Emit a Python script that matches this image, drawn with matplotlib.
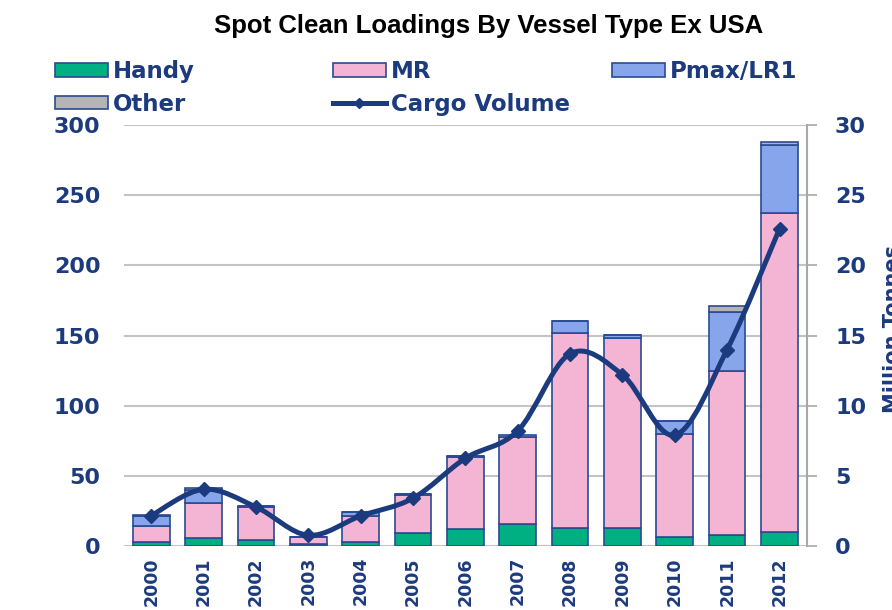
import numpy as np
import matplotlib
matplotlib.use('Agg')
import matplotlib.pyplot as plt
from matplotlib import font_manager
from matplotlib.path import Path
from matplotlib.patches import PathPatch, Patch
from matplotlib.lines import Line2D

years = ['2000', '2001', '2002', '2003', '2004', '2005', '2006',
         '2007', '2008', '2009', '2010', '2011', '2012']
handy = [2.5, 5.5, 4, 1.5, 2.5, 9, 12, 16, 13, 13, 6.5, 8, 10]
mr = [12, 25, 24, 5, 19, 27.5, 51.5, 61.5, 139, 135, 73, 117, 227]
pmax = [6.5, 9.5, 0.5, 0, 2.5, 0.5, 0.5, 0.5, 8, 2.5, 9.5, 42, 49]
other = [1, 1, 0, 0, 0, 0, 0, 1, 0.5, 0, 0, 4, 2]
cargo = [2.16, 4.04, 2.78, 0.76, 2.14, 3.4, 6.25, 8.2, 13.7, 12.2, 7.9, 14.0, 22.6]

navy = '#1c3a7e'
edge = '#2b4a92'
c_handy = '#00b082'
c_mr = '#f4b4d4'
c_pmax = '#86a5ea'
c_other = '#b4b4b4'

# pick the regular-width Liberation Sans Bold (avoid the Narrow variant)
title_font = font_manager.FontProperties(family='DejaVu Sans', weight='bold', size=18.5)
for f in font_manager.fontManager.ttflist:
    if f.name == 'Liberation Sans' and f.weight in (700, 'bold') and f.style == 'normal' \
            and 'Narrow' not in f.fname:
        title_font = font_manager.FontProperties(fname=f.fname, size=18.5)
        break

fig = plt.figure(figsize=(8.92, 6.1), dpi=100)
ax = fig.add_axes([0.139, 0.105, 0.766, 0.69])
ax2 = ax.twinx()

x = np.arange(len(years))
w = 0.7
bottom = np.zeros(len(years))
for vals, col in [(handy, c_handy), (mr, c_mr), (pmax, c_pmax), (other, c_other)]:
    v = np.array(vals, dtype=float)
    ax.bar(x, v, w, bottom=bottom, color=col, edgecolor=edge, linewidth=1.2, zorder=3)
    bottom += v

# smooth line (catmull-rom -> bezier), like excel's smoothed line
y = np.array(cargo)
px = np.concatenate([[x[0]], x, [x[-1]]])
py = np.concatenate([[y[0]], y, [y[-1]]])
verts = [(x[0], y[0])]
codes = [Path.MOVETO]
for i in range(1, len(px) - 2):
    c1 = (px[i] + (px[i + 1] - px[i - 1]) / 6, py[i] + (py[i + 1] - py[i - 1]) / 6)
    c2 = (px[i + 1] - (px[i + 2] - px[i]) / 6, py[i + 1] - (py[i + 2] - py[i]) / 6)
    verts += [c1, c2, (px[i + 1], py[i + 1])]
    codes += [Path.CURVE4] * 3
ax2.add_patch(PathPatch(Path(verts, codes), facecolor='none', edgecolor=navy,
                        linewidth=3.6, zorder=4, capstyle='round'))
ax2.plot(x, y, linestyle='none', marker='D', markersize=7.5, color=navy, zorder=5)

ax.set_xlim(-0.52, 12.53)
ax.set_ylim(0, 300)
ax2.set_ylim(0, 30)
ax.set_yticks(range(0, 301, 50))
ax2.set_yticks(range(0, 31, 5))
ax.set_xticks(x)
ax.set_xticklabels(years, rotation=90)

ax.yaxis.grid(True, color='#c4c4c4', linewidth=1.5, zorder=0)
ax.set_axisbelow(True)
for s in ['left', 'top', 'bottom']:
    ax.spines[s].set_visible(False)
    ax2.spines[s].set_visible(False)
ax.spines['right'].set_visible(False)
ax2.spines['right'].set_color('#a8a8a8')
ax2.spines['right'].set_linewidth(1.5)

ax.tick_params(axis='y', length=0, pad=17)
ax.tick_params(axis='x', length=0, pad=8)
ax2.tick_params(axis='y', length=7, width=1.2, color='#a8a8a8', pad=13)
for lab in ax.get_yticklabels() + ax2.get_yticklabels():
    lab.set_fontsize(16)
    lab.set_fontweight('bold')
    lab.set_color(navy)
for lab in ax.get_xticklabels():
    lab.set_fontsize(12.5)
    lab.set_fontweight('bold')
    lab.set_color(navy)

fig.text(0.548, 0.957, 'Spot Clean Loadings By Vessel Type Ex USA', ha='center', va='center',
         fontproperties=title_font, color='black')
fig.text(0.99, 0.46, 'Million Tonnes', rotation=90, ha='left', va='center',
         fontsize=15, fontweight='bold', color=navy)

leg_kw = dict(loc='upper left', frameon=False, borderpad=0, borderaxespad=0,
              handlelength=2.3, handleheight=0.55, handletextpad=0.22, labelspacing=0.42,
              prop={'size': 16.5, 'weight': 'bold'}, labelcolor=navy)


def patch(c):
    return Patch(facecolor=c, edgecolor=edge, linewidth=1.2)


cargo_h = Line2D([], [], color=navy, linewidth=3.6, marker='D', markersize=5)
anchor_y = 1 - 60 / 610
fig.legend([patch(c_handy), patch(c_other)], ['Handy', 'Other'],
           bbox_to_anchor=(55 / 892, anchor_y), **leg_kw)
fig.legend([patch(c_mr), cargo_h], ['MR', 'Cargo Volume'],
           bbox_to_anchor=(333 / 892, anchor_y), **leg_kw)
fig.legend([patch(c_pmax)], ['Pmax/LR1'],
           bbox_to_anchor=(612 / 892, anchor_y), **leg_kw)

fig.savefig('out.png', dpi=100)
